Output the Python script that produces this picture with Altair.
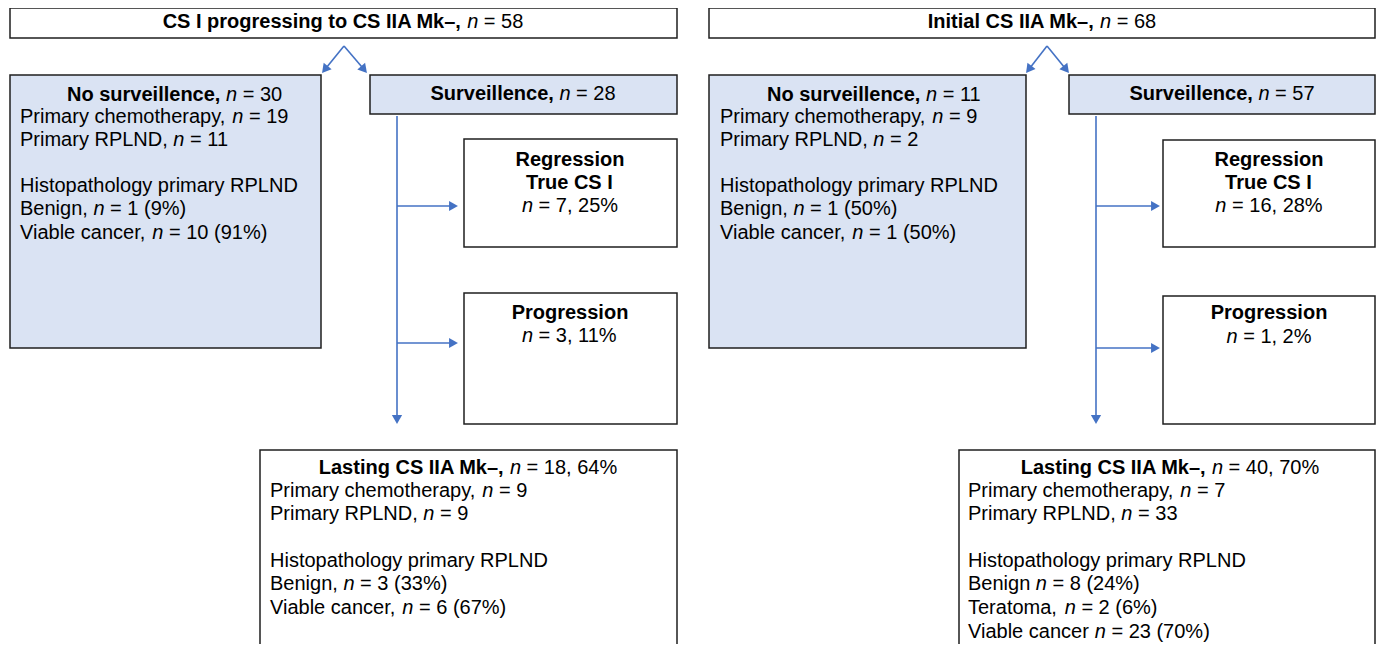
import re
import math
import altair as alt
import pandas as pd

FONT = "Liberation Sans"
FS = 20
BLUE = "#4472C4"
FILL_BLUE = "#DAE3F3"

# ---------------- text content (markup: **bold**, _italic_) ----------------
top_left = "**CS I progressing to CS IIA Mk–,** _n_ = 58"
top_right = "**Initial CS IIA Mk–,** _n_ = 68"

nosurv_left_title = "**No surveillence,** _n_ = 30"
nosurv_left_lines = ["Primary chemotherapy, _n_ = 19", "Primary RPLND, _n_ = 11", "",
                     "Histopathology primary RPLND", "Benign, _n_ = 1 (9%)",
                     "Viable cancer, _n_ = 10 (91%)"]
nosurv_right_title = "**No surveillence,** _n_ = 11"
nosurv_right_lines = ["Primary chemotherapy, _n_ = 9", "Primary RPLND, _n_ = 2", "",
                      "Histopathology primary RPLND", "Benign, _n_ = 1 (50%)",
                      "Viable cancer, _n_ = 1 (50%)"]

surv_left = "**Surveillence,** _n_ = 28"
surv_right = "**Surveillence,** _n_ = 57"

regr_left = ["**Regression**", "**True CS I**", "_n_ = 7, 25%"]
regr_right = ["**Regression**", "**True CS I**", "_n_ = 16, 28%"]
prog_left = ["**Progression**", "_n_ = 3, 11%"]
prog_right = ["**Progression**", "_n_ = 1, 2%"]

last_left_title = "**Lasting CS IIA Mk–,** _n_ = 18, 64%"
last_left_lines = ["Primary chemotherapy, _n_ = 9", "Primary RPLND, _n_ = 9", "",
                   "Histopathology primary RPLND", "Benign, _n_ = 3 (33%)",
                   "Viable cancer, _n_ = 6 (67%)"]
last_right_title = "**Lasting CS IIA Mk–,** _n_ = 40, 70%"
last_right_lines = ["Primary chemotherapy, _n_ = 7", "Primary RPLND, _n_ = 33", "",
                    "Histopathology primary RPLND", "Benign _n_ = 8 (24%)",
                    "Teratoma, _n_ = 2 (6%)", "Viable cancer _n_ = 23 (70%)"]

# ---------------- layout (image pixel coordinates) ----------------
box_x = [10, 10, 370, 464, 464, 260, 709, 709, 1069, 1163, 1163, 959]
box_x2 = [677, 321, 677, 677, 677, 677, 1375, 1026, 1375, 1375, 1375, 1375]
box_y = [8, 75, 75, 139, 293, 450, 8, 75, 75, 140, 296, 450]
box_y2 = [38, 348, 114, 247, 424, 670, 38, 348, 114, 247, 424, 670]
box_fill = ["white", FILL_BLUE, FILL_BLUE, "white", "white", "white",
            "white", FILL_BLUE, FILL_BLUE, "white", "white", "white"]

arr_x = [344, 344, 397, 397, 397, 1047, 1047, 1096, 1096, 1096]
arr_y = [46, 46, 116, 206, 343, 46, 46, 116, 206, 348]
arr_x2 = [322, 367, 397, 458, 458, 1026, 1069, 1096, 1160, 1160]
arr_y2 = [73, 73, 424, 206, 343, 73, 73, 424, 206, 348]

text_lines = []
text_lines.append((top_left, 343, 22, "center"))
text_lines.append((top_right, 1042, 22, "center"))
text_lines.append((nosurv_left_title, 67, 95, "left"))
text_lines.append((nosurv_right_title, 767, 95, "left"))
ys_ns = [117, 140, 163, 186, 209, 233]
for t, y in zip(nosurv_left_lines, ys_ns):
    text_lines.append((t, 20, y, "left"))
for t, y in zip(nosurv_right_lines, ys_ns):
    text_lines.append((t, 720, y, "left"))
text_lines.append((surv_left, 523, 94, "center"))
text_lines.append((surv_right, 1222, 94, "center"))
for t, y in zip(regr_left, [160, 183, 206]):
    text_lines.append((t, 570, y, "center"))
for t, y in zip(regr_right, [160, 183, 206]):
    text_lines.append((t, 1269, y, "center"))
for t, y in zip(prog_left, [313, 336]):
    text_lines.append((t, 570, y, "center"))
for t, y in zip(prog_right, [313, 337]):
    text_lines.append((t, 1269, y, "center"))
text_lines.append((last_left_title, 468, 468, "center"))
text_lines.append((last_right_title, 1170, 468, "center"))
ys_last = [491, 514, 537, 561, 584, 608, 632]
for t, y in zip(last_left_lines, ys_last):
    text_lines.append((t, 270, y, "left"))
for t, y in zip(last_right_lines, ys_last):
    text_lines.append((t, 968, y, "left"))

# ---------------- Arial / Liberation Sans advance widths ----------------
REG = dict(zip("ABCDEFGHIJKLMNOPQRSTUVWXYZ",
               [667, 667, 722, 722, 667, 611, 778, 722, 278, 500, 667, 556, 833,
                722, 778, 667, 778, 722, 667, 611, 722, 667, 944, 667, 667, 611]))
REG.update(dict(zip("abcdefghijklmnopqrstuvwxyz",
                    [556, 556, 500, 556, 556, 278, 556, 556, 222, 222, 500, 222, 833,
                     556, 556, 556, 556, 333, 500, 278, 556, 500, 722, 500, 500, 500])))
BOLD = dict(zip("ABCDEFGHIJKLMNOPQRSTUVWXYZ",
                [722, 722, 722, 722, 667, 611, 778, 722, 278, 556, 722, 611, 833,
                 722, 778, 667, 778, 722, 667, 611, 722, 667, 944, 667, 667, 611]))
BOLD.update(dict(zip("abcdefghijklmnopqrstuvwxyz",
                     [556, 611, 556, 611, 556, 333, 611, 611, 278, 278, 556, 278, 889,
                      611, 611, 611, 611, 389, 556, 333, 611, 556, 778, 556, 556, 500])))
COMMON = {" ": 278, ",": 278, ".": 278, "–": 556, "=": 584, "%": 889, "(": 333, ")": 333}
for d in (REG, BOLD):
    d.update(COMMON)
    d.update({c: 556 for c in "0123456789"})


def tw(s, style):
    table = BOLD if style == "b" else REG
    return sum(table.get(c, 556) for c in s) / 1000.0 * FS


def parse(markup):
    runs = []
    for part in re.split(r"(\*\*.*?\*\*|_.*?_)", markup):
        if not part:
            continue
        if part.startswith("**"):
            runs.append((part[2:-2], "b"))
        elif part.startswith("_"):
            runs.append((part[1:-1], "i"))
        else:
            runs.append((part, "r"))
    return runs


segs = []
for markup, x, y, align in text_lines:
    runs = parse(markup)
    if not runs:
        continue
    total = sum(tw(t, s) for t, s in runs)
    pos = x - total / 2 if align == "center" else x
    for t, s in runs:
        lead = len(t) - len(t.lstrip(" "))
        stripped = t.strip(" ")
        if stripped:
            segs.append({"x": pos + tw(t[:lead], s), "y": y, "t": stripped, "s": s})
        pos += tw(t, s)
seg_df = pd.DataFrame(segs)

box_df = pd.DataFrame({"x": box_x, "x2": box_x2, "y": box_y, "y2": box_y2, "fill": box_fill})

HEAD = 4.5
rows, heads = [], []
for x1, y1, x2, y2 in zip(arr_x, arr_y, arr_x2, arr_y2):
    dx, dy = x2 - x1, y2 - y1
    L = math.hypot(dx, dy)
    cx, cy = x2 - dx / L * HEAD, y2 - dy / L * HEAD
    rows.append({"x": x1, "y": y1, "x2": cx, "y2": cy})
    ang = math.degrees(math.atan2(dx, -dy)) % 360
    heads.append({"x": cx, "y": cy, "a": ang})
rule_df = pd.DataFrame(rows)
head_df = pd.DataFrame(heads)

XS = alt.Scale(domain=[8, 1376], nice=False, zero=False)
YS = alt.Scale(domain=[8, 644], reverse=True, nice=False, zero=False)

boxes = alt.Chart(box_df).mark_rect(stroke="#1f1f1f", strokeWidth=1.5).encode(
    x=alt.X("x:Q", scale=XS, axis=None),
    x2="x2:Q",
    y=alt.Y("y:Q", scale=YS, axis=None),
    y2="y2:Q",
    fill=alt.Fill("fill:N", scale=None),
)

rules = alt.Chart(rule_df).mark_rule(color=BLUE, strokeWidth=1.6).encode(
    x=alt.X("x:Q", scale=XS, axis=None),
    x2="x2:Q",
    y=alt.Y("y:Q", scale=YS, axis=None),
    y2="y2:Q",
)

arrowheads = alt.Chart(head_df).mark_point(
    shape="triangle-up", filled=True, color=BLUE, size=105, opacity=1
).encode(
    x=alt.X("x:Q", scale=XS, axis=None),
    y=alt.Y("y:Q", scale=YS, axis=None),
    angle=alt.Angle("a:Q", scale=None),
)


def text_layer(style, weight, fstyle):
    return alt.Chart(seg_df).transform_filter(alt.datum.s == style).mark_text(
        align="left", baseline="middle", font=FONT, fontSize=FS,
        fontWeight=weight, fontStyle=fstyle, color="black"
    ).encode(
        x=alt.X("x:Q", scale=XS, axis=None),
        y=alt.Y("y:Q", scale=YS, axis=None),
        text="t:N",
    )


chart = alt.layer(
    boxes, rules, arrowheads,
    text_layer("r", "normal", "normal"),
    text_layer("b", "bold", "normal"),
    text_layer("i", "normal", "italic"),
).properties(
    width=1368, height=636,
    autosize=alt.AutoSizeParams(type="none"),
    padding=0,
).configure_view(stroke=None)

chart.save("out.html", embed_options={"renderer": "svg", "actions": False})
